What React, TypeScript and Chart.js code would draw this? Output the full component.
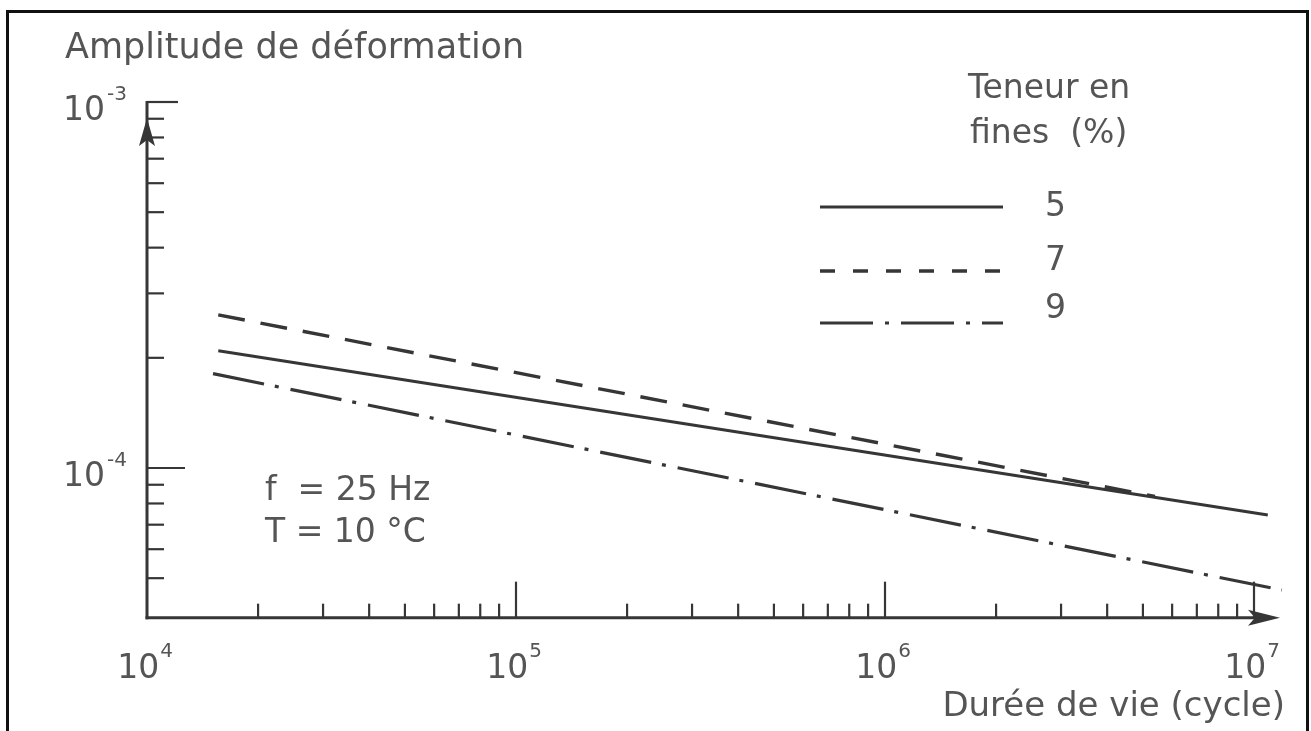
import React, { useEffect, useRef } from "react";
import { Chart, registerables } from "chart.js";

Chart.register(...registerables);

// ---- data ----
const SERIES_LABELS = ["5", "7", "9"];
const cycles5 = [1.56e4, 1.09e7];
const strain5 = [2.09e-4, 7.44e-5];
const cycles7 = [1.56e4, 5.39e6];
const strain7 = [2.62e-4, 8.36e-5];
const cycles9 = [1.51e4, 1.19e7];
const strain9 = [1.81e-4, 4.64e-5];

// ---- axes ----
const X_MIN = 1e4;
const X_MAX = 1.26e7;
const Y_MIN = 3.9e-5;
const Y_MAX = 1e-3;
const X_MAJOR_EXPONENTS = [4, 5, 6, 7];
const X_MINOR_TICKS = [
  2e4, 3e4, 4e4, 5e4, 6e4, 7e4, 8e4, 9e4,
  2e5, 3e5, 4e5, 5e5, 6e5, 7e5, 8e5, 9e5,
  2e6, 3e6, 4e6, 5e6, 6e6, 7e6, 8e6, 9e6,
];
const Y_MAJOR_EXPONENTS = [-3, -4];
const Y_MINOR_TICKS = [
  5e-5, 6e-5, 7e-5, 8e-5, 9e-5,
  2e-4, 3e-4, 4e-4, 5e-4, 6e-4, 7e-4, 8e-4, 9e-4,
];

const TITLE_Y = "Amplitude de déformation";
const TITLE_X = "Durée de vie (cycle)";
const LEGEND_TITLE = ["Teneur en", "fines  (%)"];
const NOTE_LINES = ["f  = 25 Hz", "T = 10 °C"];

const W = 1311;
const H = 731;
const INK = "#363636";
const TEXT = "#555555";
const FONT = "'DejaVu Sans', 'Liberation Sans', sans-serif";

const PX_PER_DECADE_X = 369;
const PX_PER_DECADE_Y = 366;
const PLOT_LEFT = 147;
const PLOT_TOP = 102;
const PLOT_RIGHT = PLOT_LEFT + PX_PER_DECADE_X * Math.log10(X_MAX / X_MIN);
const PLOT_BOTTOM = PLOT_TOP + PX_PER_DECADE_Y * Math.log10(Y_MAX / Y_MIN);

const toPoints = (xs: number[], ys: number[]) => xs.map((x, i) => ({ x, y: ys[i] }));

const overlayPlugin = {
  id: "overlay",
  afterDraw(chart: any) {
    const ctx: CanvasRenderingContext2D = chart.ctx;
    const xs = chart.scales.x;
    const ys = chart.scales.y;
    const x0 = xs.getPixelForValue(X_MIN);
    const yb = ys.getPixelForValue(Y_MIN);
    const yTop = ys.getPixelForValue(Y_MAX);
    ctx.save();

    // frame
    ctx.strokeStyle = "#111";
    ctx.lineWidth = 3;
    ctx.beginPath();
    ctx.moveTo(7.5, H + 5);
    ctx.lineTo(7.5, 11.5);
    ctx.lineTo(1307.5, 11.5);
    ctx.lineTo(1307.5, H + 5);
    ctx.stroke();

    // axes
    ctx.strokeStyle = INK;
    ctx.fillStyle = INK;
    ctx.lineWidth = 3;
    ctx.beginPath();
    ctx.moveTo(x0, yb + 1.5);
    ctx.lineTo(x0, yTop - 1);
    ctx.stroke();
    const tipX = 1280;
    ctx.beginPath();
    ctx.moveTo(x0 - 1.5, yb);
    ctx.lineTo(tipX - 8, yb);
    ctx.stroke();
    // x arrow
    ctx.beginPath();
    ctx.moveTo(tipX, yb);
    ctx.lineTo(tipX - 32, yb - 8);
    ctx.lineTo(tipX - 25, yb);
    ctx.lineTo(tipX - 32, yb + 8);
    ctx.closePath();
    ctx.fill();
    // y arrow
    ctx.beginPath();
    ctx.moveTo(x0, yTop + 16);
    ctx.lineTo(x0 - 8, yTop + 44);
    ctx.lineTo(x0, yTop + 38);
    ctx.lineTo(x0 + 8, yTop + 44);
    ctx.closePath();
    ctx.fill();

    // ticks
    ctx.lineWidth = 2.2;
    for (const v of X_MINOR_TICKS) {
      const px = xs.getPixelForValue(v);
      ctx.beginPath();
      ctx.moveTo(px, yb);
      ctx.lineTo(px, yb - 14);
      ctx.stroke();
    }
    for (const e of X_MAJOR_EXPONENTS.slice(1)) {
      const px = xs.getPixelForValue(Math.pow(10, e));
      ctx.beginPath();
      ctx.moveTo(px, yb);
      ctx.lineTo(px, yb - 36);
      ctx.stroke();
    }
    for (const v of Y_MINOR_TICKS) {
      const py = ys.getPixelForValue(v);
      ctx.beginPath();
      ctx.moveTo(x0, py);
      ctx.lineTo(x0 + 17, py);
      ctx.stroke();
    }
    for (const e of Y_MAJOR_EXPONENTS) {
      const py = ys.getPixelForValue(Math.pow(10, e));
      ctx.beginPath();
      ctx.moveTo(x0, py);
      ctx.lineTo(x0 + (e === -3 ? 31 : 38), py);
      ctx.stroke();
    }

    // tick labels
    ctx.fillStyle = TEXT;
    ctx.textBaseline = "alphabetic";
    ctx.textAlign = "left";
    const big = `33px ${FONT}`;
    const small = `20px ${FONT}`;
    for (const e of X_MAJOR_EXPONENTS) {
      const px = xs.getPixelForValue(Math.pow(10, e));
      ctx.font = big;
      const w1 = ctx.measureText("10").width;
      ctx.font = small;
      const sup = String(e);
      const w2 = ctx.measureText(sup).width;
      const start = px - 2 - (w1 + w2 + 1) / 2;
      ctx.font = big;
      ctx.fillText("10", start, 678);
      ctx.font = small;
      ctx.fillText(sup, start + w1 + 1, 657);
    }
    for (const e of Y_MAJOR_EXPONENTS) {
      const py = ys.getPixelForValue(Math.pow(10, e));
      ctx.font = big;
      const w1 = ctx.measureText("10").width;
      ctx.fillText("10", 63, py + 18);
      ctx.font = small;
      ctx.fillText("-" + String(-e), 63 + w1 + 2, py - 2);
    }

    // titles
    ctx.font = `35px ${FONT}`;
    ctx.fillText(TITLE_Y, 65, 58);
    ctx.font = `34px ${FONT}`;
    ctx.textAlign = "right";
    ctx.fillText(TITLE_X, 1285, 716);
    ctx.textAlign = "left";
    ctx.font = big;

    // note
    ctx.fillText(NOTE_LINES[0], 265, 500);
    ctx.fillText(NOTE_LINES[1], 265, 542);

    // legend
    ctx.fillText(LEGEND_TITLE[0], 968, 98);
    ctx.fillText(LEGEND_TITLE[1], 970, 143);
    const legendY = [207, 271, 323];
    const labelY = [216, 270, 318];
    chart.data.datasets.forEach((ds: any, i: number) => {
      ctx.strokeStyle = ds.borderColor;
      ctx.lineWidth = ds.borderWidth;
      ctx.setLineDash(ds.legendDash || []);
      ctx.beginPath();
      ctx.moveTo(820, legendY[i]);
      ctx.lineTo(1003, legendY[i]);
      ctx.stroke();
      ctx.setLineDash([]);
      ctx.fillStyle = TEXT;
      ctx.fillText(ds.label, 1045, labelY[i]);
    });

    ctx.restore();
  },
};

export default function App() {
  const canvasRef = useRef<HTMLCanvasElement | null>(null);

  useEffect(() => {
    document.body.style.margin = "0";
    const canvas = canvasRef.current;
    if (!canvas) return;
    const chart = new Chart(canvas, {
      type: "line",
      data: {
        datasets: [
          {
            label: SERIES_LABELS[0],
            data: toPoints(cycles5, strain5),
            borderColor: INK,
            borderWidth: 3,
            borderDash: [],
            pointRadius: 0,
            legendDash: [],
          } as any,
          {
            label: SERIES_LABELS[1],
            data: toPoints(cycles7, strain7),
            borderColor: INK,
            borderWidth: 3.4,
            borderDash: [27, 16],
            pointRadius: 0,
            legendDash: [15, 18],
          } as any,
          {
            label: SERIES_LABELS[2],
            data: toPoints(cycles9, strain9),
            borderColor: INK,
            borderWidth: 3.2,
            borderDash: [52, 11, 4, 12],
            pointRadius: 0,
            legendDash: [53, 12, 4, 12],
          } as any,
        ],
      },
      options: {
        responsive: false,
        animation: false,
        devicePixelRatio: 1,
        layout: {
          padding: {
            left: PLOT_LEFT,
            top: PLOT_TOP,
            right: W - PLOT_RIGHT,
            bottom: H - PLOT_BOTTOM,
          },
        },
        scales: {
          x: { type: "logarithmic", min: X_MIN, max: X_MAX, display: false },
          y: { type: "logarithmic", min: Y_MIN, max: Y_MAX, display: false },
        },
        plugins: {
          legend: { display: false },
          tooltip: { enabled: false },
        },
      },
      plugins: [overlayPlugin],
    });
    return () => chart.destroy();
  }, []);

  return (
    <div style={{ width: W, height: H, background: "#fff" }}>
      <canvas ref={canvasRef} width={W} height={H} style={{ display: "block" }} />
    </div>
  );
}
